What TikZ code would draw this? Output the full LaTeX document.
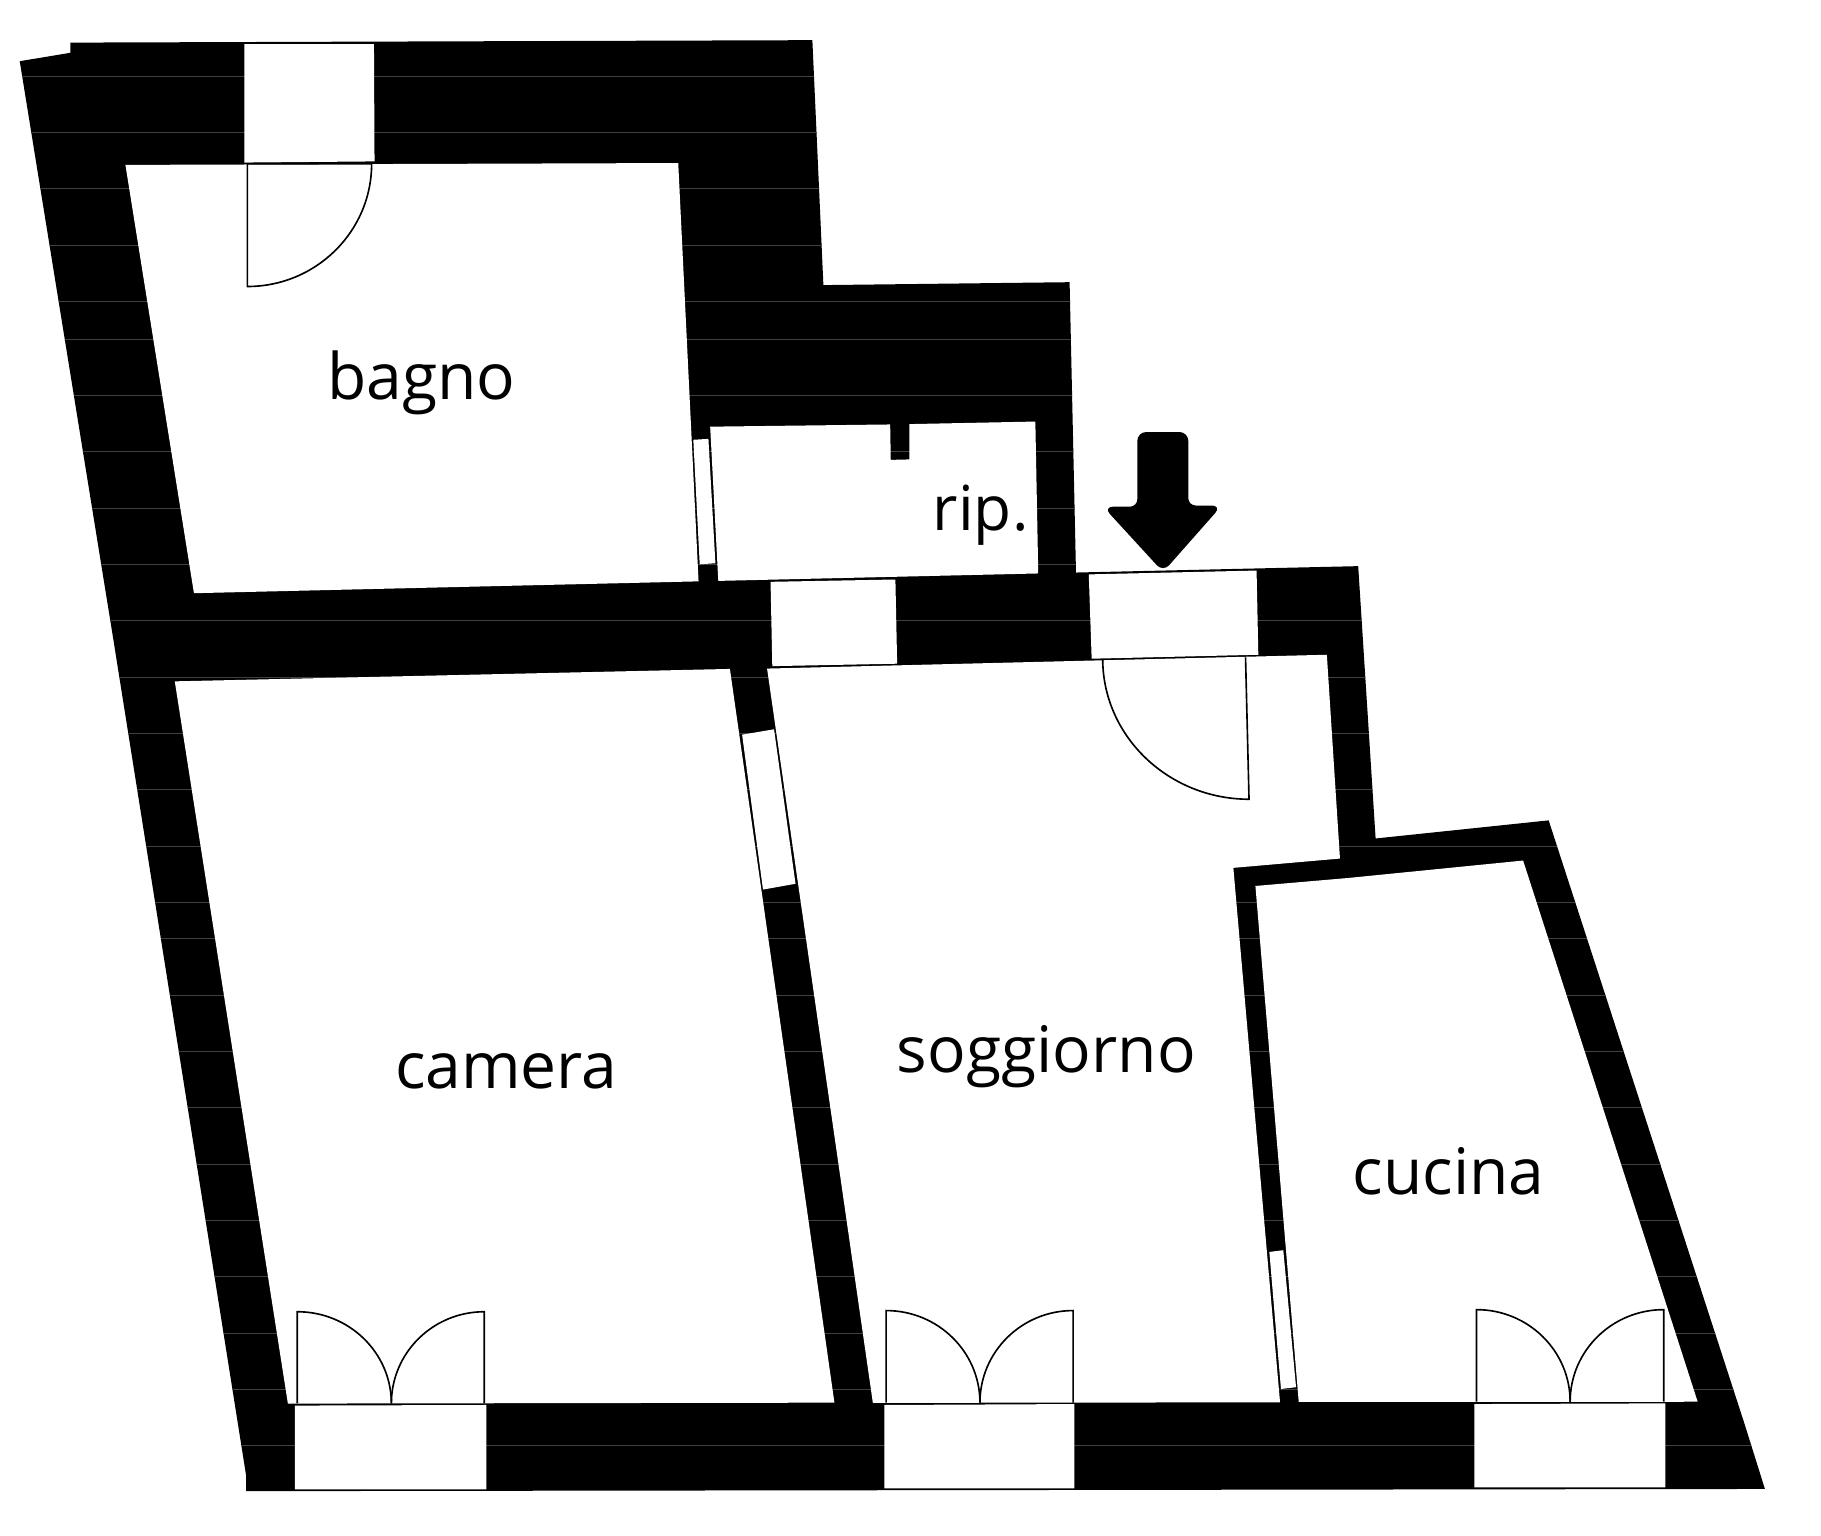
\documentclass[tikz,border=0pt]{standalone}
\usepackage{fontspec}
\setmainfont{Open Sans}
\tikzset{
    wall/.style={fill=black},
    hairline/.style={draw=black!75,line width=0.18pt},
    room/.style={fill=white},
    opening/.style={fill=white},
    leaf/.style={draw=black,line width=0.4pt},
    entry/.style={fill=black,draw=black,line width=0.4pt,rounded corners=2pt},
    roomname/.style={anchor=base,inner sep=0pt,font=\fontsize{15.7pt}{18pt}\selectfont}
}

\begin{document}
\begin{tikzpicture}[x=0.01cm,y=-0.01cm]
        \useasboundingbox (0,0) rectangle (1568,1322.6);

        \begin{scope}
            \clip (60.5,36.7) -- (60.5,45.5) -- (17,52.7) -- (97.5,550) -- (212,1271) -- (212,1284)
                -- (1519.7,1282.1) -- (1502,1225.6) -- (1333.5,706.4) -- (1184.5,722) -- (1169.5,487.5)
                -- (926.5,493) -- (921,243) -- (709,245.5) -- (699.5,34.6) -- cycle;
            \fill[wall] (0,0) rectangle (1568,1322.6);
            \foreach \ypos in {65.4,113.9,162.4,210.9,259.4,291.9,340.4,388.9,437.4,485.9,534.4,582.9,631.4,679.9,728.4,776.9,808.4,856.9,905.4,953.9,1002.4,1050.9,1099.4,1147.9,1196.4,1244.9}
                \draw[hairline] (0,\ypos) -- (1568,\ypos);
        \end{scope}

        \fill[room] (108,142) -- (584,140.4) -- (601.5,500.6) -- (167,510.8) -- cycle;
        \fill[room] (611.5,367.4) -- (766.5,365.5) -- (767,396) -- (783,395.6) -- (783,365.2) -- (891.5,363) -- (894,493.8) -- (618.5,500.2) -- cycle;
        \fill[room] (150.5,586.7) -- (628.5,576) -- (718.5,1207.8) -- (247.9,1208.6) -- cycle;
        \fill[room] (660.5,575.7) -- (1142.5,563.8) -- (1153.8,739.3) -- (1062,747.3) -- (1102.2,1207.5) -- (751.6,1208) -- cycle;
        \fill[room] (1081,762.9) -- (1161,756) -- (1311.5,741) -- (1461.8,1207) -- (1118.3,1207.2) -- cycle;

        \fill[opening] (210.5,38) -- (322,38) -- (322.5,139) -- (210.5,140) -- cycle;
        \fill[opening] (663.5,501) -- (771,499) -- (772.5,571.5) -- (665,573.6) -- cycle;
        \fill[opening] (937.5,494.6) -- (1082,491.3) -- (1083.5,563.8) -- (940,567.2) -- cycle;
        \fill[opening] (254,1210.3) -- (418.7,1209.8) -- (418.7,1282.4) -- (254,1282.4) -- cycle;
        \fill[opening] (761.4,1209.8) -- (925,1209) -- (925,1281.5) -- (761.4,1281.5) -- cycle;
        \fill[opening] (1269.6,1209) -- (1434,1208.4) -- (1434,1280.7) -- (1269.6,1280.7) -- cycle;

        \fill[opening] (597,378.7) -- (610,377.9) -- (616,485) -- (602.5,485.9) -- cycle;
        \fill[opening] (639,632.6) -- (666.5,628) -- (685,761) -- (657,766) -- cycle;
        \fill[opening] (1093,1078) -- (1105,1076.5) -- (1116,1194.5) -- (1103,1196) -- cycle;

        \draw[leaf] (320,141) -- (213,141) -- (213,246.7) arc[start angle=90,end angle=0,x radius=107,y radius=105.7];
        \draw[leaf] (949.5,568) .. controls (950,635) and (1007,688.2) .. (1075.5,688.2) -- (1072.5,566);

        \draw[leaf] (337,1208.5) arc[start angle=0,end angle=-90,x radius=81,y radius=79] -- (256,1208.5);
        \draw[leaf] (337,1208.5) arc[start angle=-180,end angle=-90,x radius=80,y radius=79] -- (417,1208.5);
        \draw[leaf] (843.8,1207.8) arc[start angle=0,end angle=-90,x radius=80.8,y radius=79.3] -- (763,1207.8);
        \draw[leaf] (843.8,1207.8) arc[start angle=-180,end angle=-90,x radius=80.2,y radius=79.3] -- (924,1207.8);
        \draw[leaf] (1352,1207) arc[start angle=0,end angle=-90,x radius=80.6,y radius=79.3] -- (1271.4,1207);
        \draw[leaf] (1352,1207) arc[start angle=-180,end angle=-90,x radius=80.6,y radius=79.3] -- (1432.6,1207);

        \draw[entry] (980,372.7) -- (1022.5,372.7) -- (1022.5,436) -- (1050.5,436) -- (1001.5,491.5) -- (951.5,437) -- (980,437) -- cycle;

        \node[roomname] (bagno) at (363,343.7) {bagno};
        \node[roomname,font=\fontsize{15.2pt}{18pt}\selectfont] (rip) at (844.5,456.5) {rip.};
        \node[roomname] (camera) at (436,937) {camera};
        \node[roomname] (soggiorno) at (901,923.7) {soggiorno};
        \node[roomname] (cucina) at (1247.5,1028.5) {cucina};

    \end{tikzpicture}
\end{document}
